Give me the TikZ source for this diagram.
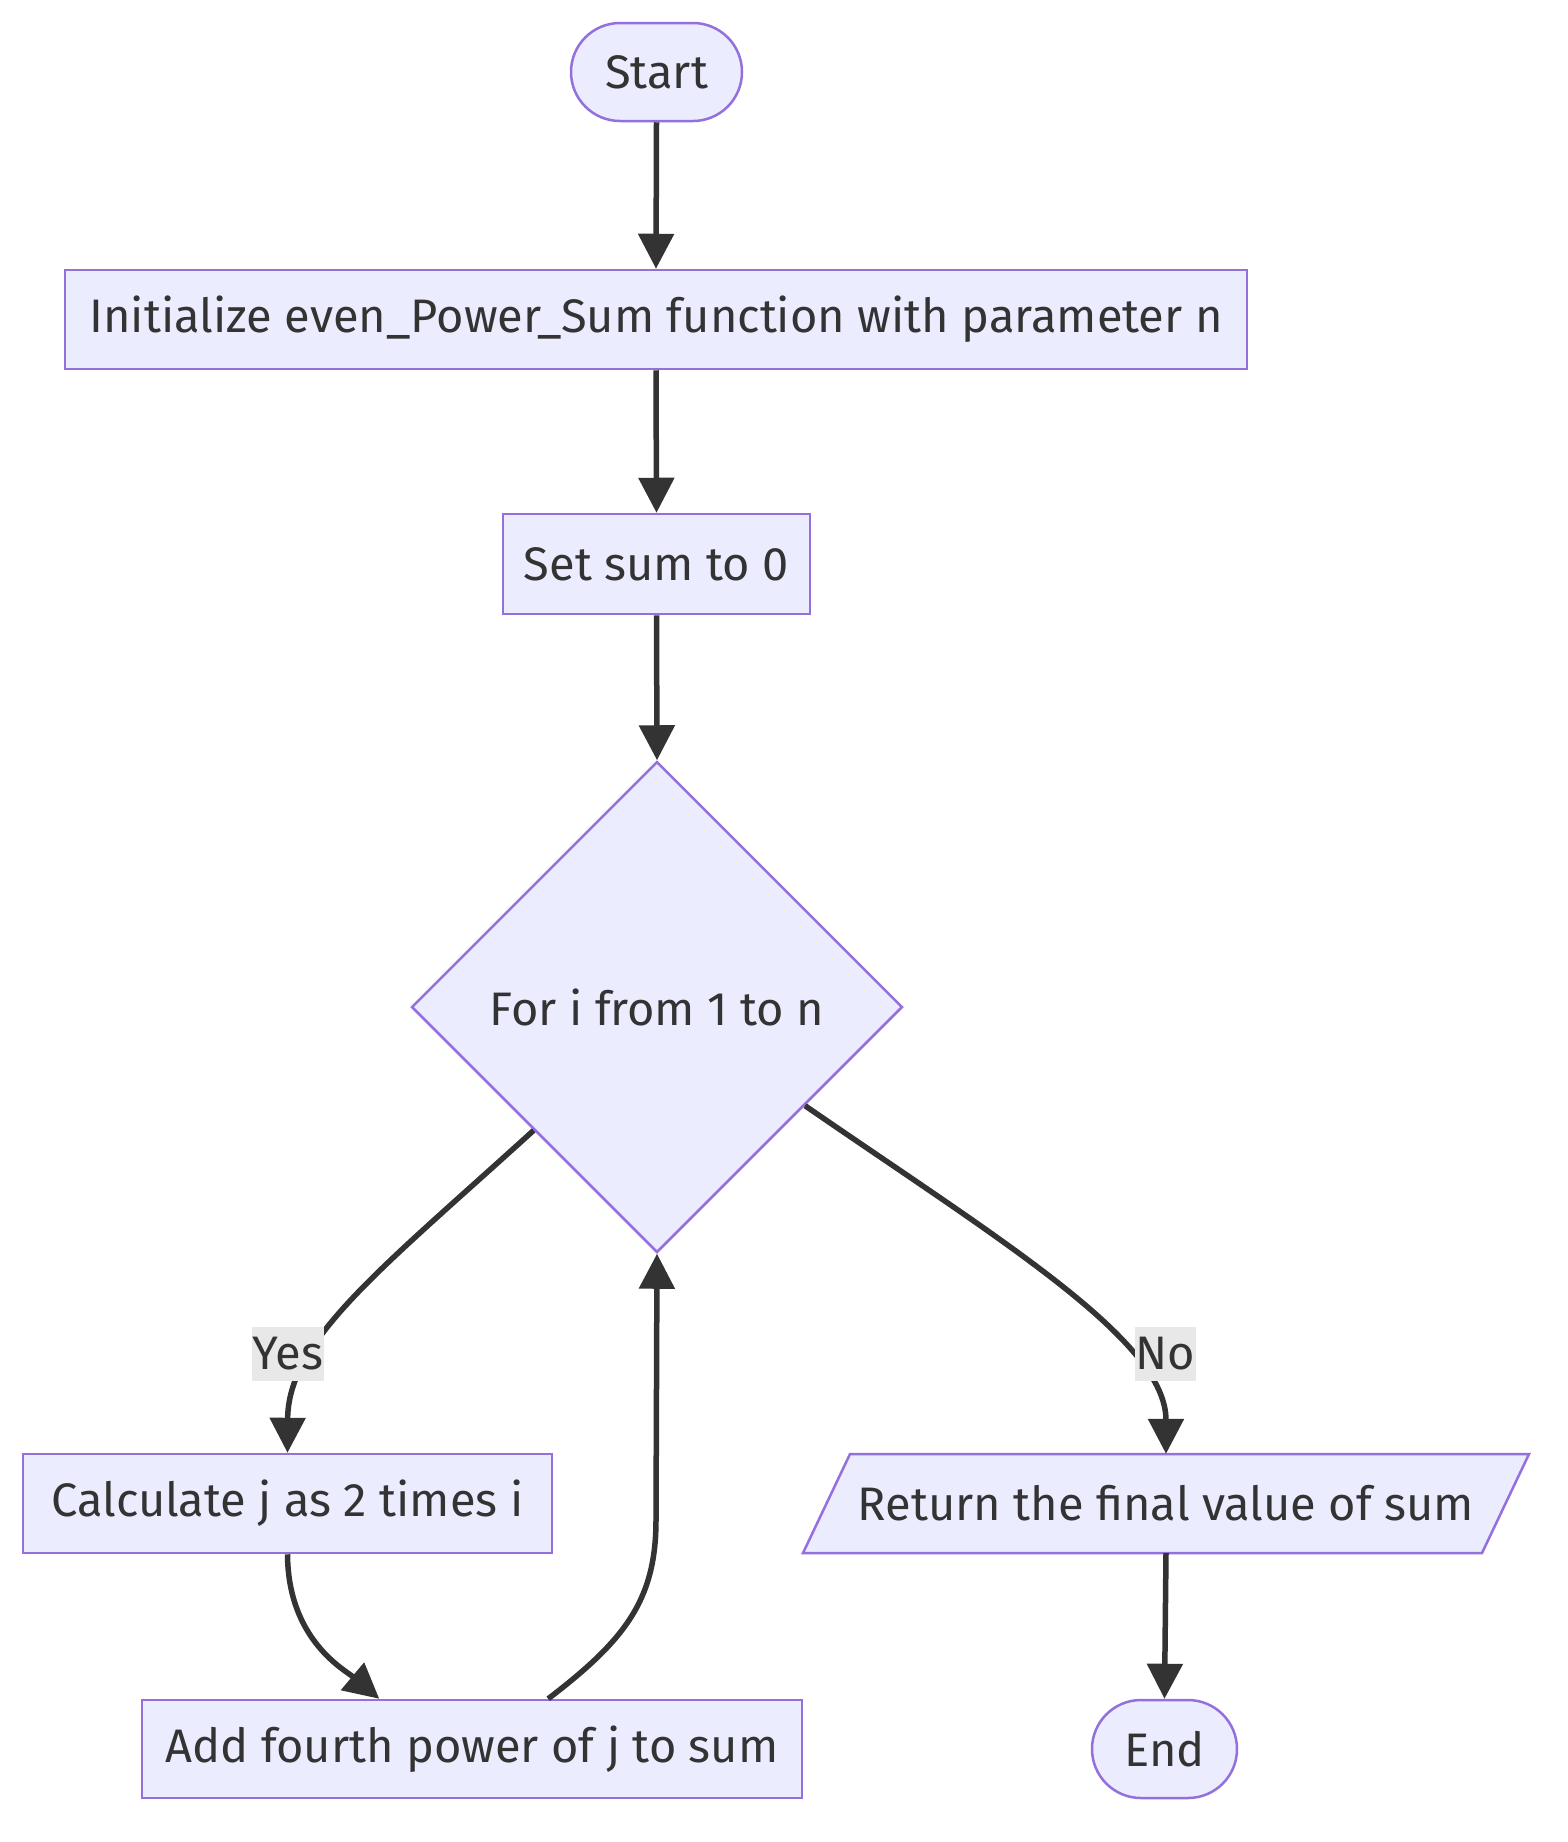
\documentclass[tikz,border=0pt]{standalone}
\usepackage{fontspec}
\setmainfont{Fira Sans}
\usetikzlibrary{arrows.meta,shapes.geometric,calc}
\definecolor{nfill}{HTML}{ECECFF}
\definecolor{nline}{HTML}{9370DB}
\definecolor{ink}{HTML}{333333}
\definecolor{lbl}{HTML}{E8E8E8}
\begin{document}
\begin{tikzpicture}[x=1pt,y=-1pt,
  every node/.style={font=\fontsize{47}{55}\selectfont, text=ink},
  box/.style={rectangle, draw=nline, fill=nfill, line width=2.5pt, inner sep=0pt},
  term/.style={box, rounded corners=49pt},
  dia/.style={diamond, draw=nline, fill=nfill, line width=2.5pt, inner sep=0pt, minimum width=491pt, minimum height=491pt},
  flow/.style={draw=ink, line width=5.5pt, -{Triangle[length=35pt,width=35pt]}},
  lab/.style={fill=lbl, inner xsep=1pt, inner ysep=0pt, minimum height=54pt}
]
\useasboundingbox[fill=white] (0,0) rectangle (1568,1842);

\node[term, minimum width=171pt, minimum height=98pt] (st) at (656.5,72) {Start};
\node[box, minimum width=1182pt, minimum height=99pt] (in) at (656,319.5) {Initialize even\_Power\_Sum function with parameter n};
\node[box, minimum width=307pt, minimum height=100pt] (s0) at (656.5,564) {Set sum to 0};
\node[dia] (d) at (657,1007) {};
\node at (d.center) {For i from 1 to n};
\node[box, minimum width=529pt, minimum height=99pt] (c) at (287.5,1503.5) {Calculate j as 2 times i};
\node[box, minimum width=660pt, minimum height=98pt] (a) at (472,1749) {Add fourth power of j to sum};
\fill[nfill, draw=nline, line width=2.5pt] (803,1553) -- (850,1454) -- (1529,1454) -- (1482,1553) -- cycle;
\node[rectangle, inner sep=0pt, minimum width=679pt, minimum height=99pt] (r) at (1166,1503.5) {Return the final value of sum};
\node[term, minimum width=145pt, minimum height=98pt] (e) at (1164.5,1749) {End};

\draw[flow] (st.south) -- (in.north);
\draw[flow] (in.south) -- (s0.north);
\draw[flow] (s0.south) -- (d.north);
\draw[flow] (d.south west) .. controls (380,1270) and (288,1340) .. (c.north);
\draw[flow] ($(d.east)!0.4!(d.south)$) .. controls (1000,1240) and (1166,1340) .. (r.north);
\draw[flow] (c.south) .. controls (288,1640) and (345,1670) .. ($(a.north west)!0.36!(a.north east)$);
\draw[flow] ($(a.north west)!0.615!(a.north east)$) .. controls (625,1640) and (656,1600) .. (656,1520) -- (d.south);
\draw[flow] (r.south) -- (e.north);

\node[lab] (ly) at (288,1354) {Yes};
\node[lab] (ln) at (1165.5,1354) {No};
\end{tikzpicture}
\end{document}
